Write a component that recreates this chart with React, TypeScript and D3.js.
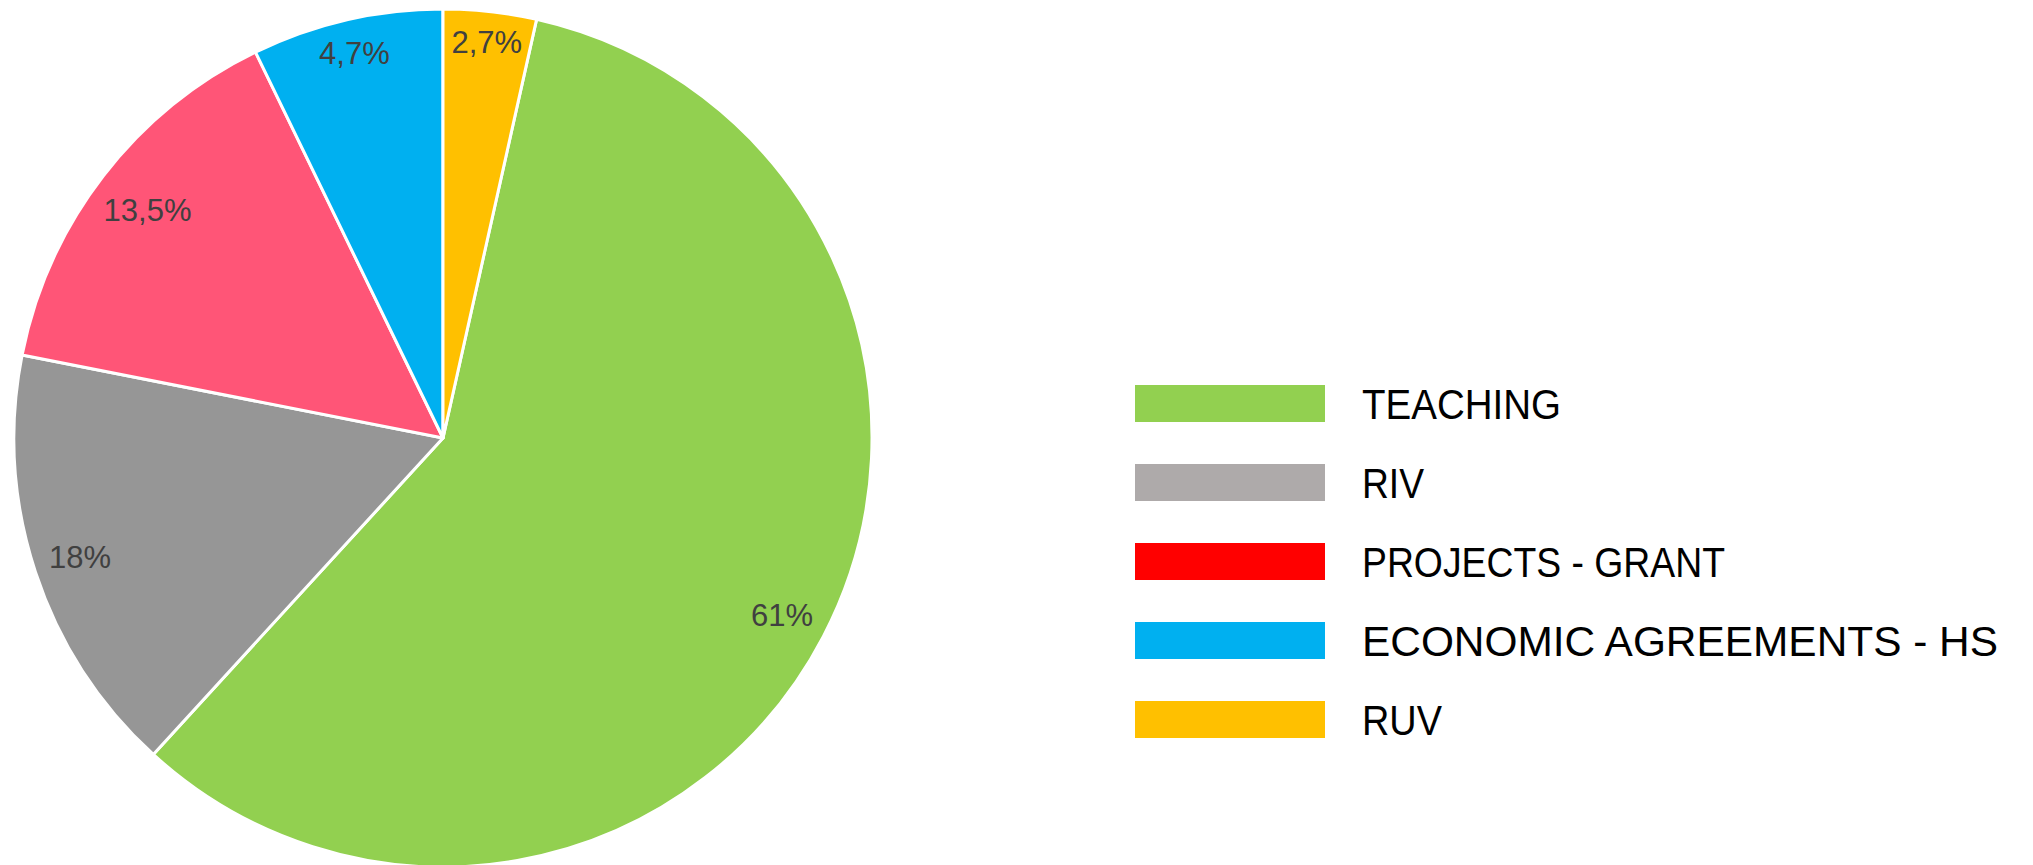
import React from "react";
import * as d3 from "d3";

const categories = ["TEACHING", "RIV", "PROJECTS - GRANT", "ECONOMIC AGREEMENTS - HS", "RUV"];
// slice sizes (percent)
const sliceValues = [58.3, 16.3, 14.7, 7.2, 3.5];
// printed data labels
const sliceLabels = ["61%", "18%", "13,5%", "4,7%", "2,7%"];
const pieColors = ["#92D050", "#969696", "#FF5577", "#00B0F0", "#FFC000"];
const legendColors = ["#92D050", "#AEAAAA", "#FF0000", "#00B0F0", "#FFC000"];
// rendered widths of the (condensed) legend captions
const legendTextWidths = [199, 62, 363, 636, 80];

const W = 2033;
const H = 865;
const cx = 443;
const cy = 438;
const R = 429;
const cornerR = 415;
const labelFont = "31px 'Liberation Sans', Arial, sans-serif";

function measure(text: string): number {
  if (typeof document === "undefined") return text.length * 17;
  const c = document.createElement("canvas");
  const ctx = c.getContext("2d");
  if (!ctx) return text.length * 17;
  ctx.font = labelFont;
  return ctx.measureText(text).width;
}

export default function App() {
  const total = d3.sum(sliceValues);
  const lastShare = sliceValues[sliceValues.length - 1] / total;
  const start = 2 * Math.PI * lastShare;
  const pie = d3
    .pie<number>()
    .sort(null)
    .value((d) => d)
    .startAngle(start)
    .endAngle(start + 2 * Math.PI);
  const arcs = pie(sliceValues);
  const arc = d3.arc<d3.PieArcDatum<number>>().innerRadius(0).outerRadius(R);

  const legendY = d3.scaleLinear().domain([0, categories.length - 1]).range([385, 701]);

  const labelPos = arcs.map((a, i) => {
    const mid = (a.startAngle + a.endAngle) / 2;
    const ux = Math.sin(mid);
    const uy = -Math.cos(mid);
    const hw = measure(sliceLabels[i]) / 2;
    const hh = 11;
    const c0 = Math.sign(ux) * hw;
    const c1 = Math.sign(uy) * hh;
    const uc = ux * c0 + uy * c1;
    const cc = c0 * c0 + c1 * c1;
    const d = -uc + Math.sqrt(uc * uc - cc + cornerR * cornerR);
    return [d * ux, d * uy];
  });

  return (
    <svg
      width={W}
      height={H}
      style={{ position: "absolute", left: 0, top: 0, background: "#fff" }}
    >
      <g transform={`translate(${cx},${cy})`}>
        {arcs.map((a, i) => (
          <path key={i} d={arc(a) || ""} fill={pieColors[i]} stroke="#fff" strokeWidth={3} strokeLinejoin="round" />
        ))}
        {arcs.map((a, i) => (
          <text
            key={"l" + i}
            x={labelPos[i][0]}
            y={labelPos[i][1]}
            dy="0.36em"
            textAnchor="middle"
            fontFamily="'Liberation Sans', Arial, sans-serif"
            fontSize={31}
            fill="#404040"
          >
            {sliceLabels[i]}
          </text>
        ))}
      </g>
      <g>
        {categories.map((c, i) => (
          <g key={c} transform={`translate(0,${legendY(i)})`}>
            <rect x={1135} y={0} width={190} height={37} fill={legendColors[i]} />
            <text
              x={1362}
              y={34}
              fontFamily="'Liberation Sans', Arial, sans-serif"
              fontSize={43}
              textLength={legendTextWidths[i]}
              lengthAdjust="spacingAndGlyphs"
              fill="#000"
            >
              {c}
            </text>
          </g>
        ))}
      </g>
    </svg>
  );
}
